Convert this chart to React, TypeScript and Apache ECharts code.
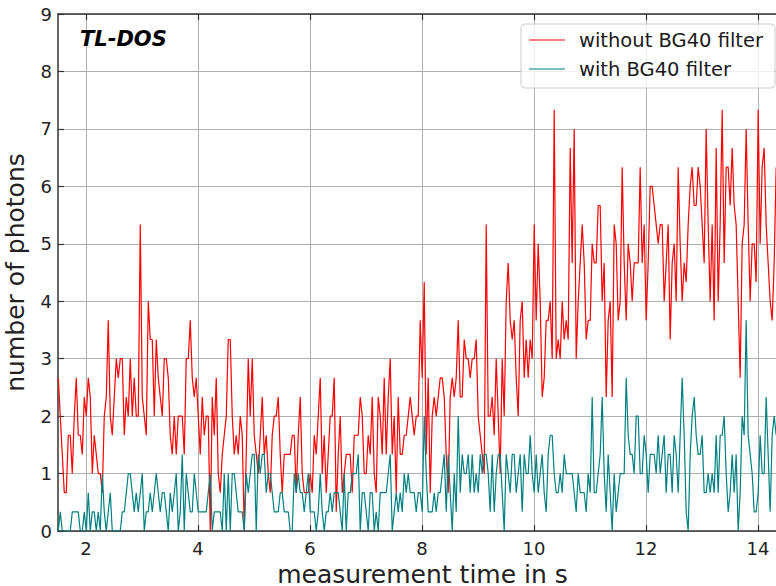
import React, { useEffect, useRef } from "react";
import * as echarts from "echarts";

// Photon counts per time bin, stored as sums over three consecutive samples
// (each point is plotted as the mean of its three samples).
const T0 = 1.505; // s, first bin
const DT = 1 / 28; // s, bin spacing

const withoutFilterSums = [
  // 1.5 s – 3.6 s
  8, 6, 4, 2, 2, 5, 5, 3, 6, 8, 5, 5, 4, 7, 6, 8, 7, 3, 5, 4, 3, 3, 2, 6, 7, 11, 6, 5, 7, 9,
  8, 9, 9, 5, 7, 6, 9, 6, 8, 6, 6, 16, 7, 6, 5, 12, 10, 10, 6, 10, 8, 7, 6, 9, 9, 8, 5, 4, 6, 4, 6,
  // 3.7 s – 5.8 s
  6, 6, 4, 9, 9, 11, 8, 7, 8, 6, 4, 7, 5, 6, 6, 0, 7, 5, 8, 3, 2, 4, 5, 6, 10, 10, 6, 4, 5, 4,
  6, 5, 0, 4, 9, 6, 9, 5, 4, 3, 5, 7, 4, 5, 3, 2, 5, 6, 6, 7, 4, 2, 4, 4, 4, 4, 5, 5, 2, 5, 7,
  // 5.9 s – 8.0 s
  3, 2, 2, 2, 3, 2, 5, 4, 6, 8, 3, 5, 2, 4, 6, 6, 8, 1, 4, 6, 2, 3, 4, 4, 4, 2, 5, 5, 5, 7,
  6, 3, 3, 5, 4, 7, 3, 2, 7, 6, 4, 8, 4, 7, 9, 4, 6, 2, 7, 4, 4, 5, 5, 6, 7, 6, 5, 6, 6, 11,
  // 8.0 s – 10.1 s
  8, 13, 4, 8, 2, 6, 7, 6, 7, 8, 8, 7, 4, 2, 7, 8, 7, 8, 11, 7, 7, 10, 9, 9, 8, 9, 9, 10, 6, 5,
  4, 3, 16, 6, 6, 7, 5, 9, 6, 3, 9, 6, 12, 14, 11, 10, 11, 8, 6, 11, 12, 8, 10, 8, 10, 9, 16, 11, 15, 12,
  // 10.2 s – 12.3 s
  7, 8, 11, 11, 12, 9, 22, 9, 10, 9, 12, 10, 11, 10, 20, 14, 21, 9, 12, 14, 16, 14, 10, 11, 11, 15, 14, 14, 17, 17,
  12, 14, 7, 11, 12, 7, 16, 15, 11, 12, 19, 14, 11, 15, 14, 12, 14, 14, 14, 19, 14, 16, 11, 14, 18, 18, 17, 16, 15, 16,
  // 12.3 s – 14.3 s
  16, 12, 14, 16, 10, 14, 15, 12, 19, 15, 12, 14, 13, 16, 18, 19, 17, 17, 19, 18, 16, 14, 21, 16, 12, 16, 11, 20, 12, 16,
  22, 14, 19, 19, 17, 20, 17, 16, 12, 8, 15, 16, 21, 16, 12, 15, 15, 13, 22, 15, 19, 20, 16, 14, 12, 11, 14, 19,
];

const withFilterSums = [
  // 1.5 s – 3.6 s
  0, 1, 0, 0, 0, 0, 0, 1, 1, 1, 1, 0, 0, 1, 0, 2, 0, 1, 1, 0, 1, 0, 3, 1, 0, 1, 2, 0, 0, 0,
  0, 0, 1, 1, 2, 3, 3, 2, 1, 2, 1, 2, 3, 0, 1, 1, 2, 1, 2, 3, 2, 1, 2, 2, 1, 0, 2, 1, 2, 3, 0,
  // 3.7 s – 5.8 s
  1, 4, 0, 3, 2, 1, 1, 3, 2, 1, 1, 1, 1, 1, 2, 3, 0, 1, 1, 1, 1, 0, 3, 0, 3, 0, 3, 3, 2, 1,
  1, 1, 0, 3, 2, 3, 4, 4, 0, 4, 3, 4, 4, 2, 3, 3, 2, 1, 1, 1, 2, 2, 1, 1, 1, 0, 0, 3, 2, 3, 2,
  // 5.9 s – 8.0 s
  2, 1, 2, 3, 1, 1, 1, 0, 1, 3, 1, 0, 1, 1, 2, 1, 2, 2, 2, 1, 0, 3, 0, 2, 2, 3, 3, 3, 4, 0,
  2, 2, 1, 0, 2, 2, 0, 1, 0, 2, 2, 2, 2, 3, 4, 0, 1, 2, 1, 2, 1, 3, 2, 3, 2, 2, 2, 1, 2, 2,
  // 8.0 s – 10.1 s
  1, 6, 3, 1, 1, 1, 2, 1, 2, 2, 3, 4, 1, 4, 2, 0, 3, 1, 6, 2, 4, 3, 3, 4, 2, 4, 2, 3, 2, 4,
  3, 4, 4, 3, 1, 4, 1, 3, 4, 4, 2, 0, 4, 3, 2, 4, 4, 2, 3, 4, 1, 4, 3, 3, 5, 3, 2, 4, 2, 3,
  // 10.2 s – 12.3 s
  4, 2, 1, 4, 5, 5, 3, 2, 2, 3, 2, 4, 3, 3, 3, 3, 2, 1, 3, 2, 2, 2, 1, 3, 2, 7, 2, 2, 3, 4,
  7, 3, 1, 4, 2, 0, 3, 1, 2, 3, 3, 3, 8, 5, 4, 4, 3, 6, 6, 3, 3, 5, 4, 2, 4, 4, 4, 3, 5, 3,
  // 12.3 s – 14.3 s
  4, 5, 2, 4, 4, 2, 5, 4, 2, 5, 8, 5, 1, 0, 4, 6, 7, 5, 4, 4, 5, 2, 2, 3, 2, 3, 2, 5, 2, 5,
  5, 6, 3, 1, 2, 4, 2, 4, 0, 2, 6, 5, 11, 5, 4, 3, 1, 1, 2, 5, 3, 3, 7, 4, 1, 5, 6, 5,
];

const SERIES_NAMES = ["without BG40 filter", "with BG40 filter"];
const SERIES_COLORS = ["#ff0000", "#008080"];
const X_TICKS = [2, 4, 6, 8, 10, 12, 14];
const X_MIN = 1.5;
const X_MAX = 14.52;
const Y_MIN = 0;
const Y_MAX = 9;
const TITLE = "TL-DOS";
const X_NAME = "measurement time in s";
const Y_NAME = "number of photons";

const FONT = "DejaVu Sans";
const SPINE = "#333333";
const GRID = "#b0b0b0";

function toPoints(sums: number[]): [number, number][] {
  return sums.map((s, i) => [T0 + i * DT, s / 3]);
}

export default function App() {
  const ref = useRef<HTMLDivElement>(null);

  useEffect(() => {
    if (!ref.current) return;
    const chart = echarts.init(ref.current, undefined, { renderer: "svg" });

    const spineLine = { show: true, onZero: false, lineStyle: { color: SPINE, width: 1.5 } };
    const tick = { show: true, inside: true, length: 6, lineStyle: { color: SPINE, width: 1.2 } };

    chart.setOption({
      animation: false,
      backgroundColor: "#ffffff",
      textStyle: { fontFamily: FONT },
      grid: {
        left: 58,
        top: 14,
        right: 0,
        bottom: 55,
        containLabel: false,
        outerBoundsMode: "none",
      },
      xAxis: [
        {
          type: "value",
          min: X_MIN,
          max: X_MAX,
          position: "bottom",
          axisLine: spineLine,
          axisTick: { ...tick, customValues: X_TICKS },
          axisLabel: { customValues: X_TICKS, fontSize: 18, color: "#222", margin: 8, fontFamily: FONT },
          splitLine: { show: true, lineStyle: { color: GRID, width: 1 } },
          name: X_NAME,
          nameLocation: "middle",
          nameGap: 33,
          nameTextStyle: { fontSize: 25, lineHeight: 20, color: "#222", fontFamily: FONT },
        },
        {
          type: "value",
          min: X_MIN,
          max: X_MAX,
          position: "top",
          axisLine: spineLine,
          axisTick: { ...tick, customValues: X_TICKS },
          axisLabel: { show: false },
          splitLine: { show: false },
        },
      ],
      yAxis: [
        {
          type: "value",
          min: Y_MIN,
          max: Y_MAX,
          interval: 1,
          position: "left",
          axisLine: spineLine,
          axisTick: tick,
          axisLabel: { fontSize: 18, color: "#222", margin: 6, fontFamily: FONT },
          splitLine: { show: true, lineStyle: { color: GRID, width: 1 } },
          name: Y_NAME,
          nameLocation: "middle",
          nameGap: 30,
          nameRotate: 90,
          nameTextStyle: { fontSize: 25, color: "#222", fontFamily: FONT },
        },
      ],
      series: [withoutFilterSums, withFilterSums].map((sums, k) => ({
        name: SERIES_NAMES[k],
        type: "line",
        xAxisIndex: 0,
        yAxisIndex: 0,
        data: toPoints(sums),
        symbol: "none",
        showSymbol: false,
        clip: true,
        lineStyle: { color: SERIES_COLORS[k], width: 1.2 },
        itemStyle: { color: SERIES_COLORS[k] },
        z: 3 + k,
      })),
      graphic: [
        {
          type: "text",
          x: 80,
          y: 39,
          z: 10,
          style: {
            text: TITLE,
            font: `italic bold 21px "${FONT}"`,
            fill: "#000",
            verticalAlign: "middle",
          },
        },
        {
          type: "rect",
          z: 10,
          shape: { x: 521, y: 24, width: 254, height: 64, r: 4 },
          style: { fill: "rgba(255,255,255,0.8)", stroke: "#cccccc", lineWidth: 1 },
        },
        ...SERIES_NAMES.flatMap((name, k) => [
          {
            type: "line",
            z: 11,
            shape: { x1: 529, y1: 40 + 29 * k, x2: 565, y2: 40 + 29 * k },
            style: { stroke: SERIES_COLORS[k], lineWidth: 1.2 },
          },
          {
            type: "text",
            z: 11,
            x: 579,
            y: 40 + 29 * k,
            style: {
              text: name,
              font: `19.5px "${FONT}"`,
              fill: "#1a1a1a",
              verticalAlign: "middle",
            },
          },
        ]),
      ],
    });

    return () => chart.dispose();
  }, []);

  return (
    <div style={{ position: "fixed", left: 0, top: 0, width: 776, height: 586, overflow: "hidden", background: "#fff" }}>
      <div ref={ref} style={{ width: 787, height: 586 }} />
    </div>
  );
}
